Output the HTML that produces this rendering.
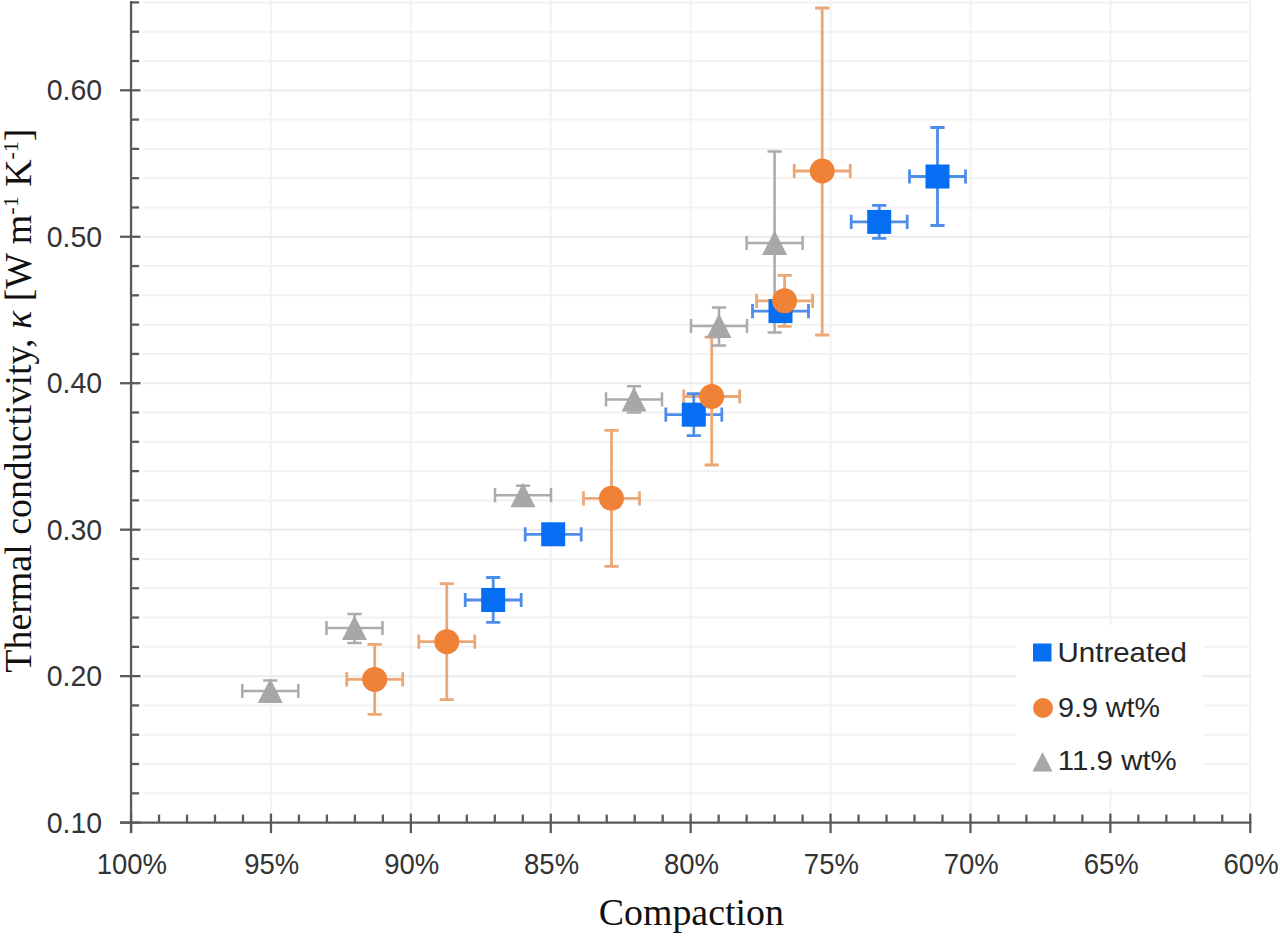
<!DOCTYPE html>
<html><head><meta charset="utf-8"><style>
html,body{margin:0;padding:0;background:#fff;width:1280px;height:936px;overflow:hidden}
svg{display:block}
.tl{font-family:"Liberation Sans",sans-serif;font-size:28.5px;fill:#333}
.lg{font-family:"Liberation Sans",sans-serif;font-size:28.5px;fill:#262626}
.at{font-family:"Liberation Serif",serif;font-size:37.9px;fill:#111}
.sup{font-size:22px}
.xl{font-size:27.5px}
</style></head><body>
<svg width="1280" height="936" viewBox="0 0 1280 936">
<rect width="1280" height="936" fill="#fff"/>
<line x1="270.96" y1="0" x2="270.96" y2="821.60" stroke="#F3F3F3" stroke-width="2.2"/>
<line x1="410.86" y1="0" x2="410.86" y2="821.60" stroke="#F3F3F3" stroke-width="2.2"/>
<line x1="550.76" y1="0" x2="550.76" y2="821.60" stroke="#F3F3F3" stroke-width="2.2"/>
<line x1="690.66" y1="0" x2="690.66" y2="821.60" stroke="#F3F3F3" stroke-width="2.2"/>
<line x1="830.56" y1="0" x2="830.56" y2="821.60" stroke="#F3F3F3" stroke-width="2.2"/>
<line x1="970.46" y1="0" x2="970.46" y2="821.60" stroke="#F3F3F3" stroke-width="2.2"/>
<line x1="1110.36" y1="0" x2="1110.36" y2="821.60" stroke="#F3F3F3" stroke-width="2.2"/>
<line x1="1250.26" y1="0" x2="1250.26" y2="821.60" stroke="#F3F3F3" stroke-width="2.2"/>
<line x1="143" y1="793.31" x2="1250.26" y2="793.31" stroke="#F2F2F2" stroke-width="2"/>
<line x1="143" y1="764.02" x2="1250.26" y2="764.02" stroke="#F2F2F2" stroke-width="2"/>
<line x1="143" y1="734.72" x2="1250.26" y2="734.72" stroke="#F2F2F2" stroke-width="2"/>
<line x1="143" y1="705.43" x2="1250.26" y2="705.43" stroke="#F2F2F2" stroke-width="2"/>
<line x1="143" y1="676.14" x2="1250.26" y2="676.14" stroke="#EBEBEB" stroke-width="2"/>
<line x1="143" y1="646.85" x2="1250.26" y2="646.85" stroke="#F2F2F2" stroke-width="2"/>
<line x1="143" y1="617.56" x2="1250.26" y2="617.56" stroke="#F2F2F2" stroke-width="2"/>
<line x1="143" y1="588.26" x2="1250.26" y2="588.26" stroke="#F2F2F2" stroke-width="2"/>
<line x1="143" y1="558.97" x2="1250.26" y2="558.97" stroke="#F2F2F2" stroke-width="2"/>
<line x1="143" y1="529.68" x2="1250.26" y2="529.68" stroke="#EBEBEB" stroke-width="2"/>
<line x1="143" y1="500.39" x2="1250.26" y2="500.39" stroke="#F2F2F2" stroke-width="2"/>
<line x1="143" y1="471.10" x2="1250.26" y2="471.10" stroke="#F2F2F2" stroke-width="2"/>
<line x1="143" y1="441.80" x2="1250.26" y2="441.80" stroke="#F2F2F2" stroke-width="2"/>
<line x1="143" y1="412.51" x2="1250.26" y2="412.51" stroke="#F2F2F2" stroke-width="2"/>
<line x1="143" y1="383.22" x2="1250.26" y2="383.22" stroke="#EBEBEB" stroke-width="2"/>
<line x1="143" y1="353.93" x2="1250.26" y2="353.93" stroke="#F2F2F2" stroke-width="2"/>
<line x1="143" y1="324.64" x2="1250.26" y2="324.64" stroke="#F2F2F2" stroke-width="2"/>
<line x1="143" y1="295.34" x2="1250.26" y2="295.34" stroke="#F2F2F2" stroke-width="2"/>
<line x1="143" y1="266.05" x2="1250.26" y2="266.05" stroke="#F2F2F2" stroke-width="2"/>
<line x1="143" y1="236.76" x2="1250.26" y2="236.76" stroke="#EBEBEB" stroke-width="2"/>
<line x1="143" y1="207.47" x2="1250.26" y2="207.47" stroke="#F2F2F2" stroke-width="2"/>
<line x1="143" y1="178.18" x2="1250.26" y2="178.18" stroke="#F2F2F2" stroke-width="2"/>
<line x1="143" y1="148.88" x2="1250.26" y2="148.88" stroke="#F2F2F2" stroke-width="2"/>
<line x1="143" y1="119.59" x2="1250.26" y2="119.59" stroke="#F2F2F2" stroke-width="2"/>
<line x1="143" y1="90.30" x2="1250.26" y2="90.30" stroke="#EBEBEB" stroke-width="2"/>
<line x1="143" y1="61.01" x2="1250.26" y2="61.01" stroke="#F2F2F2" stroke-width="2"/>
<line x1="143" y1="31.72" x2="1250.26" y2="31.72" stroke="#F2F2F2" stroke-width="2"/>
<line x1="143" y1="2.42" x2="1250.26" y2="2.42" stroke="#F2F2F2" stroke-width="2"/>
<line x1="131.06" y1="1.1" x2="131.06" y2="833.1" stroke="#5a5a5a" stroke-width="2.3"/>
<line x1="120.06" y1="822.6" x2="1251.26" y2="822.6" stroke="#5a5a5a" stroke-width="2.3"/>
<line x1="120.06" y1="822.60" x2="140.56" y2="822.60" stroke="#5a5a5a" stroke-width="2.3"/>
<line x1="131.06" y1="793.31" x2="139.06" y2="793.31" stroke="#5a5a5a" stroke-width="2.3"/>
<line x1="131.06" y1="764.02" x2="139.06" y2="764.02" stroke="#5a5a5a" stroke-width="2.3"/>
<line x1="131.06" y1="734.72" x2="139.06" y2="734.72" stroke="#5a5a5a" stroke-width="2.3"/>
<line x1="131.06" y1="705.43" x2="139.06" y2="705.43" stroke="#5a5a5a" stroke-width="2.3"/>
<line x1="120.06" y1="676.14" x2="140.56" y2="676.14" stroke="#5a5a5a" stroke-width="2.3"/>
<line x1="131.06" y1="646.85" x2="139.06" y2="646.85" stroke="#5a5a5a" stroke-width="2.3"/>
<line x1="131.06" y1="617.56" x2="139.06" y2="617.56" stroke="#5a5a5a" stroke-width="2.3"/>
<line x1="131.06" y1="588.26" x2="139.06" y2="588.26" stroke="#5a5a5a" stroke-width="2.3"/>
<line x1="131.06" y1="558.97" x2="139.06" y2="558.97" stroke="#5a5a5a" stroke-width="2.3"/>
<line x1="120.06" y1="529.68" x2="140.56" y2="529.68" stroke="#5a5a5a" stroke-width="2.3"/>
<line x1="131.06" y1="500.39" x2="139.06" y2="500.39" stroke="#5a5a5a" stroke-width="2.3"/>
<line x1="131.06" y1="471.10" x2="139.06" y2="471.10" stroke="#5a5a5a" stroke-width="2.3"/>
<line x1="131.06" y1="441.80" x2="139.06" y2="441.80" stroke="#5a5a5a" stroke-width="2.3"/>
<line x1="131.06" y1="412.51" x2="139.06" y2="412.51" stroke="#5a5a5a" stroke-width="2.3"/>
<line x1="120.06" y1="383.22" x2="140.56" y2="383.22" stroke="#5a5a5a" stroke-width="2.3"/>
<line x1="131.06" y1="353.93" x2="139.06" y2="353.93" stroke="#5a5a5a" stroke-width="2.3"/>
<line x1="131.06" y1="324.64" x2="139.06" y2="324.64" stroke="#5a5a5a" stroke-width="2.3"/>
<line x1="131.06" y1="295.34" x2="139.06" y2="295.34" stroke="#5a5a5a" stroke-width="2.3"/>
<line x1="131.06" y1="266.05" x2="139.06" y2="266.05" stroke="#5a5a5a" stroke-width="2.3"/>
<line x1="120.06" y1="236.76" x2="140.56" y2="236.76" stroke="#5a5a5a" stroke-width="2.3"/>
<line x1="131.06" y1="207.47" x2="139.06" y2="207.47" stroke="#5a5a5a" stroke-width="2.3"/>
<line x1="131.06" y1="178.18" x2="139.06" y2="178.18" stroke="#5a5a5a" stroke-width="2.3"/>
<line x1="131.06" y1="148.88" x2="139.06" y2="148.88" stroke="#5a5a5a" stroke-width="2.3"/>
<line x1="131.06" y1="119.59" x2="139.06" y2="119.59" stroke="#5a5a5a" stroke-width="2.3"/>
<line x1="120.06" y1="90.30" x2="140.56" y2="90.30" stroke="#5a5a5a" stroke-width="2.3"/>
<line x1="131.06" y1="61.01" x2="139.06" y2="61.01" stroke="#5a5a5a" stroke-width="2.3"/>
<line x1="131.06" y1="31.72" x2="139.06" y2="31.72" stroke="#5a5a5a" stroke-width="2.3"/>
<line x1="131.06" y1="2.42" x2="139.06" y2="2.42" stroke="#5a5a5a" stroke-width="2.3"/>
<line x1="131.06" y1="813.6" x2="131.06" y2="833.1" stroke="#5a5a5a" stroke-width="2.3"/>
<line x1="159.04" y1="814.6" x2="159.04" y2="822.6" stroke="#5a5a5a" stroke-width="2.3"/>
<line x1="187.02" y1="814.6" x2="187.02" y2="822.6" stroke="#5a5a5a" stroke-width="2.3"/>
<line x1="215.00" y1="814.6" x2="215.00" y2="822.6" stroke="#5a5a5a" stroke-width="2.3"/>
<line x1="242.98" y1="814.6" x2="242.98" y2="822.6" stroke="#5a5a5a" stroke-width="2.3"/>
<line x1="270.96" y1="813.6" x2="270.96" y2="833.1" stroke="#5a5a5a" stroke-width="2.3"/>
<line x1="298.94" y1="814.6" x2="298.94" y2="822.6" stroke="#5a5a5a" stroke-width="2.3"/>
<line x1="326.92" y1="814.6" x2="326.92" y2="822.6" stroke="#5a5a5a" stroke-width="2.3"/>
<line x1="354.90" y1="814.6" x2="354.90" y2="822.6" stroke="#5a5a5a" stroke-width="2.3"/>
<line x1="382.88" y1="814.6" x2="382.88" y2="822.6" stroke="#5a5a5a" stroke-width="2.3"/>
<line x1="410.86" y1="813.6" x2="410.86" y2="833.1" stroke="#5a5a5a" stroke-width="2.3"/>
<line x1="438.84" y1="814.6" x2="438.84" y2="822.6" stroke="#5a5a5a" stroke-width="2.3"/>
<line x1="466.82" y1="814.6" x2="466.82" y2="822.6" stroke="#5a5a5a" stroke-width="2.3"/>
<line x1="494.80" y1="814.6" x2="494.80" y2="822.6" stroke="#5a5a5a" stroke-width="2.3"/>
<line x1="522.78" y1="814.6" x2="522.78" y2="822.6" stroke="#5a5a5a" stroke-width="2.3"/>
<line x1="550.76" y1="813.6" x2="550.76" y2="833.1" stroke="#5a5a5a" stroke-width="2.3"/>
<line x1="578.74" y1="814.6" x2="578.74" y2="822.6" stroke="#5a5a5a" stroke-width="2.3"/>
<line x1="606.72" y1="814.6" x2="606.72" y2="822.6" stroke="#5a5a5a" stroke-width="2.3"/>
<line x1="634.70" y1="814.6" x2="634.70" y2="822.6" stroke="#5a5a5a" stroke-width="2.3"/>
<line x1="662.68" y1="814.6" x2="662.68" y2="822.6" stroke="#5a5a5a" stroke-width="2.3"/>
<line x1="690.66" y1="813.6" x2="690.66" y2="833.1" stroke="#5a5a5a" stroke-width="2.3"/>
<line x1="718.64" y1="814.6" x2="718.64" y2="822.6" stroke="#5a5a5a" stroke-width="2.3"/>
<line x1="746.62" y1="814.6" x2="746.62" y2="822.6" stroke="#5a5a5a" stroke-width="2.3"/>
<line x1="774.60" y1="814.6" x2="774.60" y2="822.6" stroke="#5a5a5a" stroke-width="2.3"/>
<line x1="802.58" y1="814.6" x2="802.58" y2="822.6" stroke="#5a5a5a" stroke-width="2.3"/>
<line x1="830.56" y1="813.6" x2="830.56" y2="833.1" stroke="#5a5a5a" stroke-width="2.3"/>
<line x1="858.54" y1="814.6" x2="858.54" y2="822.6" stroke="#5a5a5a" stroke-width="2.3"/>
<line x1="886.52" y1="814.6" x2="886.52" y2="822.6" stroke="#5a5a5a" stroke-width="2.3"/>
<line x1="914.50" y1="814.6" x2="914.50" y2="822.6" stroke="#5a5a5a" stroke-width="2.3"/>
<line x1="942.48" y1="814.6" x2="942.48" y2="822.6" stroke="#5a5a5a" stroke-width="2.3"/>
<line x1="970.46" y1="813.6" x2="970.46" y2="833.1" stroke="#5a5a5a" stroke-width="2.3"/>
<line x1="998.44" y1="814.6" x2="998.44" y2="822.6" stroke="#5a5a5a" stroke-width="2.3"/>
<line x1="1026.42" y1="814.6" x2="1026.42" y2="822.6" stroke="#5a5a5a" stroke-width="2.3"/>
<line x1="1054.40" y1="814.6" x2="1054.40" y2="822.6" stroke="#5a5a5a" stroke-width="2.3"/>
<line x1="1082.38" y1="814.6" x2="1082.38" y2="822.6" stroke="#5a5a5a" stroke-width="2.3"/>
<line x1="1110.36" y1="813.6" x2="1110.36" y2="833.1" stroke="#5a5a5a" stroke-width="2.3"/>
<line x1="1138.34" y1="814.6" x2="1138.34" y2="822.6" stroke="#5a5a5a" stroke-width="2.3"/>
<line x1="1166.32" y1="814.6" x2="1166.32" y2="822.6" stroke="#5a5a5a" stroke-width="2.3"/>
<line x1="1194.30" y1="814.6" x2="1194.30" y2="822.6" stroke="#5a5a5a" stroke-width="2.3"/>
<line x1="1222.28" y1="814.6" x2="1222.28" y2="822.6" stroke="#5a5a5a" stroke-width="2.3"/>
<line x1="1250.26" y1="813.6" x2="1250.26" y2="833.1" stroke="#5a5a5a" stroke-width="2.3"/>
<text transform="translate(102.1,832.60) scale(1,1.035)" text-anchor="end" class="tl">0.10</text>
<text transform="translate(102.1,686.14) scale(1,1.035)" text-anchor="end" class="tl">0.20</text>
<text transform="translate(102.1,539.68) scale(1,1.035)" text-anchor="end" class="tl">0.30</text>
<text transform="translate(102.1,393.22) scale(1,1.035)" text-anchor="end" class="tl">0.40</text>
<text transform="translate(102.1,246.76) scale(1,1.035)" text-anchor="end" class="tl">0.50</text>
<text transform="translate(102.1,100.30) scale(1,1.035)" text-anchor="end" class="tl">0.60</text>
<text transform="translate(131.86,873.8) scale(1,1.06)" text-anchor="middle" class="tl xl">100%</text>
<text transform="translate(271.76,873.8) scale(1,1.06)" text-anchor="middle" class="tl xl">95%</text>
<text transform="translate(411.66,873.8) scale(1,1.06)" text-anchor="middle" class="tl xl">90%</text>
<text transform="translate(551.56,873.8) scale(1,1.06)" text-anchor="middle" class="tl xl">85%</text>
<text transform="translate(691.46,873.8) scale(1,1.06)" text-anchor="middle" class="tl xl">80%</text>
<text transform="translate(831.36,873.8) scale(1,1.06)" text-anchor="middle" class="tl xl">75%</text>
<text transform="translate(971.26,873.8) scale(1,1.06)" text-anchor="middle" class="tl xl">70%</text>
<text transform="translate(1111.16,873.8) scale(1,1.06)" text-anchor="middle" class="tl xl">65%</text>
<text transform="translate(1251.06,873.8) scale(1,1.06)" text-anchor="middle" class="tl xl">60%</text>
<text x="691.3" y="924.6" text-anchor="middle" class="at">Compaction</text>
<text transform="translate(30.6,400.6) rotate(-90)" text-anchor="middle" class="at">Thermal conductivity, <tspan font-style="italic">κ</tspan> [W m<tspan class="sup" dy="-13">-1</tspan><tspan dy="13"> K</tspan><tspan class="sup" dy="-13">-1</tspan><tspan dy="13">]</tspan></text>
<path d="M465.20 600.00H521.20M465.20 592.90V607.10M521.20 592.90V607.10" stroke="#4F8DEA" stroke-width="2.8" fill="none"/>
<path d="M525.20 534.30H581.20M525.20 527.20V541.40M581.20 527.20V541.40" stroke="#4F8DEA" stroke-width="2.8" fill="none"/>
<path d="M665.80 414.70H721.80M665.80 407.60V421.80M721.80 407.60V421.80" stroke="#4F8DEA" stroke-width="2.8" fill="none"/>
<path d="M752.50 311.10H808.50M752.50 304.00V318.20M808.50 304.00V318.20" stroke="#4F8DEA" stroke-width="2.8" fill="none"/>
<path d="M851.20 221.90H907.20M851.20 214.80V229.00M907.20 214.80V229.00" stroke="#4F8DEA" stroke-width="2.8" fill="none"/>
<path d="M909.50 176.50H965.50M909.50 169.40V183.60M965.50 169.40V183.60" stroke="#4F8DEA" stroke-width="2.8" fill="none"/>
<path d="M346.70 679.40H402.70M346.70 672.30V686.50M402.70 672.30V686.50" stroke="#EBA877" stroke-width="2.8" fill="none"/>
<path d="M418.80 641.70H474.80M418.80 634.60V648.80M474.80 634.60V648.80" stroke="#EBA877" stroke-width="2.8" fill="none"/>
<path d="M583.50 498.30H639.50M583.50 491.20V505.40M639.50 491.20V505.40" stroke="#EBA877" stroke-width="2.8" fill="none"/>
<path d="M683.70 396.50H739.70M683.70 389.40V403.60M739.70 389.40V403.60" stroke="#EBA877" stroke-width="2.8" fill="none"/>
<path d="M756.60 300.80H812.60M756.60 293.70V307.90M812.60 293.70V307.90" stroke="#EBA877" stroke-width="2.8" fill="none"/>
<path d="M794.20 171.00H850.20M794.20 163.90V178.10M850.20 163.90V178.10" stroke="#EBA877" stroke-width="2.8" fill="none"/>
<path d="M242.30 691.00H298.30M242.30 683.90V698.10M298.30 683.90V698.10" stroke="#ABABAB" stroke-width="2.5" fill="none"/>
<path d="M326.50 628.00H382.50M326.50 620.90V635.10M382.50 620.90V635.10" stroke="#ABABAB" stroke-width="2.5" fill="none"/>
<path d="M495.00 495.20H551.00M495.00 488.10V502.30M551.00 488.10V502.30" stroke="#ABABAB" stroke-width="2.5" fill="none"/>
<path d="M606.00 399.40H662.00M606.00 392.30V406.50M662.00 392.30V406.50" stroke="#ABABAB" stroke-width="2.5" fill="none"/>
<path d="M691.00 326.00H747.00M691.00 318.90V333.10M747.00 318.90V333.10" stroke="#ABABAB" stroke-width="2.5" fill="none"/>
<path d="M746.60 243.00H802.60M746.60 235.90V250.10M802.60 235.90V250.10" stroke="#ABABAB" stroke-width="2.5" fill="none"/>
<path d="M493.20 577.50V622.30M486.10 577.50H500.30M486.10 622.30H500.30" stroke="#4F8DEA" stroke-width="2.8" fill="none"/>
<path d="M553.20 526.30V542.30M546.10 526.30H560.30M546.10 542.30H560.30" stroke="#4F8DEA" stroke-width="2.8" fill="none"/>
<path d="M693.80 393.70V435.70M686.70 393.70H700.90M686.70 435.70H700.90" stroke="#4F8DEA" stroke-width="2.8" fill="none"/>
<path d="M780.50 302.10V320.10M773.40 302.10H787.60M773.40 320.10H787.60" stroke="#4F8DEA" stroke-width="2.8" fill="none"/>
<path d="M879.20 205.40V238.40M872.10 205.40H886.30M872.10 238.40H886.30" stroke="#4F8DEA" stroke-width="2.8" fill="none"/>
<path d="M937.50 127.50V225.50M930.40 127.50H944.60M930.40 225.50H944.60" stroke="#4F8DEA" stroke-width="2.8" fill="none"/>
<path d="M374.70 644.40V714.40M367.60 644.40H381.80M367.60 714.40H381.80" stroke="#EBA877" stroke-width="2.8" fill="none"/>
<path d="M446.80 583.70V699.70M439.70 583.70H453.90M439.70 699.70H453.90" stroke="#EBA877" stroke-width="2.8" fill="none"/>
<path d="M611.50 430.30V566.30M604.40 430.30H618.60M604.40 566.30H618.60" stroke="#EBA877" stroke-width="2.8" fill="none"/>
<path d="M711.70 337.20V465.00M704.60 337.20H718.80M704.60 465.00H718.80" stroke="#EBA877" stroke-width="2.8" fill="none"/>
<path d="M784.60 275.30V326.30M777.50 275.30H791.70M777.50 326.30H791.70" stroke="#EBA877" stroke-width="2.8" fill="none"/>
<path d="M822.20 8.00V335.00M815.10 8.00H829.30M815.10 335.00H829.30" stroke="#EBA877" stroke-width="2.8" fill="none"/>
<path d="M270.30 680.60V701.40M263.20 680.60H277.40M263.20 701.40H277.40" stroke="#ABABAB" stroke-width="2.5" fill="none"/>
<path d="M354.50 614.00V643.00M347.40 614.00H361.60M347.40 643.00H361.60" stroke="#ABABAB" stroke-width="2.5" fill="none"/>
<path d="M523.00 485.80V504.60M515.90 485.80H530.10M515.90 504.60H530.10" stroke="#ABABAB" stroke-width="2.5" fill="none"/>
<path d="M634.00 386.20V412.60M626.90 386.20H641.10M626.90 412.60H641.10" stroke="#ABABAB" stroke-width="2.5" fill="none"/>
<path d="M719.00 307.50V345.50M711.90 307.50H726.10M711.90 345.50H726.10" stroke="#ABABAB" stroke-width="2.5" fill="none"/>
<path d="M774.60 151.50V332.50M767.50 151.50H781.70M767.50 332.50H781.70" stroke="#ABABAB" stroke-width="2.5" fill="none"/>
<rect x="481.20" y="588.00" width="24" height="24" fill="#056EF2"/>
<rect x="541.20" y="522.30" width="24" height="24" fill="#056EF2"/>
<rect x="681.80" y="402.70" width="24" height="24" fill="#056EF2"/>
<rect x="768.50" y="299.10" width="24" height="24" fill="#056EF2"/>
<rect x="867.20" y="209.90" width="24" height="24" fill="#056EF2"/>
<rect x="925.50" y="164.50" width="24" height="24" fill="#056EF2"/>
<circle cx="374.70" cy="679.40" r="12.5" fill="#EF8236"/>
<circle cx="446.80" cy="641.70" r="12.5" fill="#EF8236"/>
<circle cx="611.50" cy="498.30" r="12.5" fill="#EF8236"/>
<circle cx="711.70" cy="396.50" r="12.5" fill="#EF8236"/>
<circle cx="784.60" cy="300.80" r="12.5" fill="#EF8236"/>
<circle cx="822.20" cy="171.00" r="12.5" fill="#EF8236"/>
<path d="M270.30 678.50L282.80 703.00L257.80 703.00Z" fill="#A7A7A7"/>
<path d="M354.50 615.50L367.00 640.00L342.00 640.00Z" fill="#A7A7A7"/>
<path d="M523.00 482.70L535.50 507.20L510.50 507.20Z" fill="#A7A7A7"/>
<path d="M634.00 386.90L646.50 411.40L621.50 411.40Z" fill="#A7A7A7"/>
<path d="M719.00 313.50L731.50 338.00L706.50 338.00Z" fill="#A7A7A7"/>
<path d="M774.60 230.50L787.10 255.00L762.10 255.00Z" fill="#A7A7A7"/>
<rect x="1016" y="625" width="187" height="162" fill="#fff"/>
<rect x="1033" y="643.5" width="18.5" height="18" fill="#056EF2"/>
<text x="1057.5" y="661.8" class="lg" textLength="129.5" lengthAdjust="spacingAndGlyphs">Untreated</text>
<circle cx="1043" cy="708" r="10" fill="#EF8236"/>
<text x="1058" y="716.6" class="lg" textLength="102" lengthAdjust="spacingAndGlyphs">9.9 wt%</text>
<path d="M1042.5 752L1052.5 771.4L1032.5 771.4Z" fill="#A7A7A7"/>
<text x="1057.8" y="770.3" class="lg" textLength="119" lengthAdjust="spacingAndGlyphs">11.9 wt%</text>
</svg>
</body></html>
